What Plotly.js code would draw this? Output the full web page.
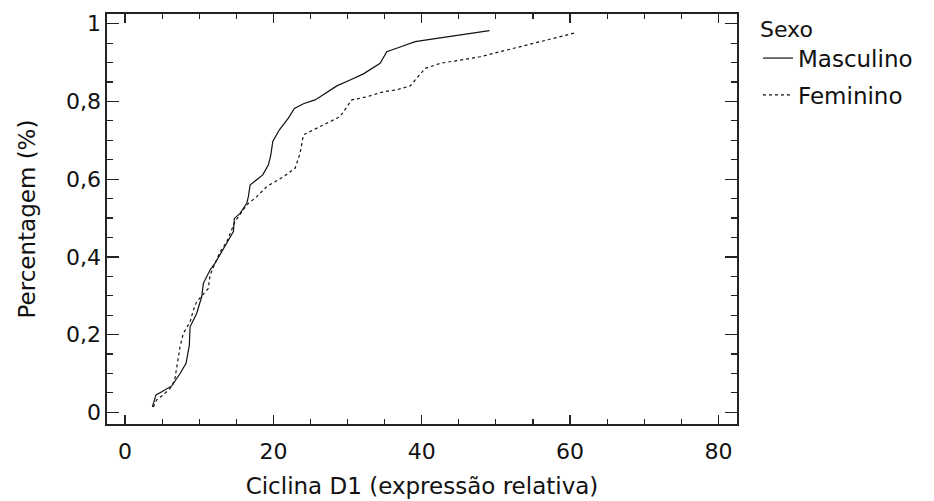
<!DOCTYPE html>
<html>
<head>
<meta charset="utf-8">
<script src="https://cdn.plot.ly/plotly-3.0.1.min.js"></script>
<style>html,body{margin:0;padding:0;background:#fff;}#chart{width:934px;height:501px;}</style>
</head>
<body>
<div id="chart"></div>
<script>
const seriesNames = ["Masculino", "Feminino"];

const mascX = [3.68, 4.18, 4.95, 6.30, 7.42, 8.23, 8.67, 8.77, 9.67, 10.34, 10.56, 11.46, 12.14, 13.04, 13.93, 14.61, 14.74, 15.51, 16.41, 16.63, 16.86, 17.76, 18.57, 19.33, 19.65, 19.92, 20.81, 22.02, 22.83, 24.05, 25.62, 26.30, 28.55, 30.34, 32.14, 34.39, 35.29, 37.09, 39.11, 41.58, 45.18, 49.13];
const mascY = [0.014, 0.045, 0.053, 0.068, 0.100, 0.126, 0.173, 0.220, 0.255, 0.298, 0.332, 0.366, 0.384, 0.413, 0.444, 0.465, 0.499, 0.512, 0.538, 0.555, 0.585, 0.600, 0.611, 0.637, 0.662, 0.697, 0.727, 0.757, 0.782, 0.794, 0.804, 0.812, 0.840, 0.855, 0.871, 0.898, 0.928, 0.940, 0.954, 0.961, 0.971, 0.982];

const femX = [3.82, 4.25, 5.17, 6.30, 6.74, 7.05, 7.42, 7.86, 8.77, 9.21, 9.67, 11.23, 11.46, 12.14, 12.81, 13.72, 14.83, 16.41, 17.76, 19.11, 21.35, 22.93, 23.60, 24.05, 25.39, 27.20, 28.99, 30.57, 32.60, 34.83, 36.64, 38.44, 39.56, 40.46, 42.48, 45.18, 47.88, 50.57, 53.27, 55.52, 57.76, 59.78, 60.82];
const femY = [0.014, 0.032, 0.045, 0.066, 0.088, 0.126, 0.169, 0.203, 0.233, 0.263, 0.285, 0.319, 0.353, 0.384, 0.413, 0.439, 0.491, 0.534, 0.555, 0.581, 0.606, 0.628, 0.667, 0.714, 0.727, 0.744, 0.761, 0.804, 0.812, 0.825, 0.830, 0.840, 0.864, 0.885, 0.898, 0.907, 0.915, 0.928, 0.941, 0.951, 0.961, 0.971, 0.977];

const xTitle = "Ciclina D1 (expressão relativa)";
const yTitle = "Percentagem (%)";
const legendTitle = "Sexo";

const FONT = "DejaVu Sans, Arial, sans-serif";

const traces = [
  {x: mascX, y: mascY, name: seriesNames[0], mode: "lines", type: "scatter", legendgroup: "m",
   line: {color: "#111", width: 1.2}},
  {x: femX, y: femY, name: seriesNames[1], mode: "lines", type: "scatter", legendgroup: "f",
   line: {color: "#111", width: 1.2, dash: "3px,3px"}}
];

const axisCommon = {
  showline: true, linecolor: "#222", linewidth: 1.6, mirror: "ticks",
  ticks: "inside", tickcolor: "#222", tickwidth: 1.3,
  showgrid: false, zeroline: false,
  tickfont: {family: FONT, size: 22, color: "#111"}
};

const layout = {
  width: 934, height: 501,
  margin: {l: 107, r: 197, t: 14, b: 77, autoexpand: false},
  paper_bgcolor: "#fff", plot_bgcolor: "#fff",
  separators: ",.",
  font: {family: FONT, color: "#111"},
  xaxis: Object.assign({}, axisCommon, {
    range: [-2.43, 82.5], dtick: 20, tick0: 0, ticklen: 9, ticklabelstandoff: 7,
    minor: {dtick: 5, ticks: "inside", ticklen: 5, tickcolor: "#222", tickwidth: 1.1},
    title: {text: xTitle, font: {family: FONT, size: 23, color: "#111"}, standoff: 15}
  }),
  yaxis: Object.assign({}, axisCommon, {
    range: [-0.030, 1.025], dtick: 0.2, tick0: 0, ticklen: 12,
    minor: {dtick: 0.05, ticks: "inside", ticklen: 6, tickcolor: "#222", tickwidth: 1.1},
    title: {text: yTitle, font: {family: FONT, size: 23, color: "#111"}, standoff: 24}
  }),
  showlegend: true,
  legend: {
    x: 1.0333, xanchor: "left", y: 1.0146, yanchor: "top",
    traceorder: "grouped", tracegroupgap: 4,
    font: {family: FONT, size: 23, color: "#111"},
    title: {text: legendTitle, font: {family: FONT, size: 22, color: "#111"}},
    bgcolor: "rgba(0,0,0,0)", borderwidth: 0
  }
};

Plotly.newPlot("chart", traces, layout, {displayModeBar: false, staticPlot: true});
</script>
</body>
</html>
